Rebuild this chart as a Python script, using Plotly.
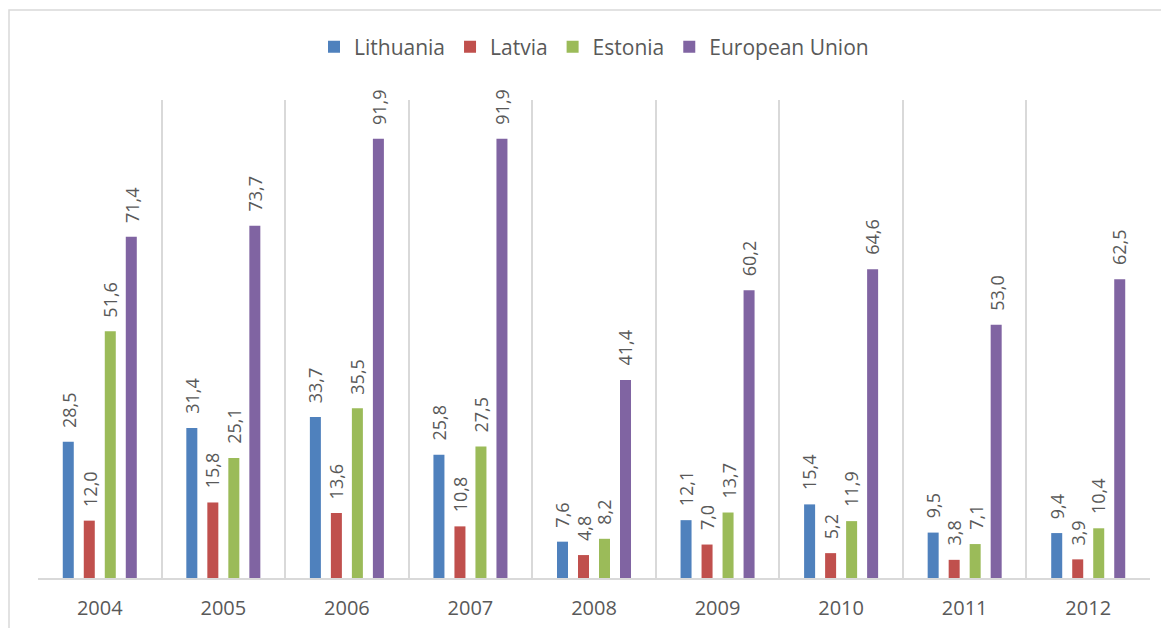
import plotly.graph_objects as go

years = ["2004", "2005", "2006", "2007", "2008", "2009", "2010", "2011", "2012"]
lithuania = [28.5, 31.4, 33.7, 25.8, 7.6, 12.1, 15.4, 9.5, 9.4]
latvia = [12.0, 15.8, 13.6, 10.8, 4.8, 7.0, 5.2, 3.8, 3.9]
estonia = [51.6, 25.1, 35.5, 27.5, 8.2, 13.7, 11.9, 7.1, 10.4]
eu = [71.4, 73.7, 91.9, 91.9, 41.4, 60.2, 64.6, 53.0, 62.5]

series = [
    ("Lithuania", lithuania, "#4F81BD"),
    ("Latvia", latvia, "#C0504D"),
    ("Estonia", estonia, "#9BBB59"),
    ("European Union", eu, "#8064A2"),
]

FONT = "Open Sans, sans-serif"
GREY = "#595959"

# page body has an 8px margin; size the figure so it fills the window
W, H = 1161, 620
L, R, T, B = 30, 19, 92, 50
pw, ph = W - L - R, H - T - B
BARGAP, GROUPGAP = 0.32, 0.476
slot = pw / len(years) * (1 - BARGAP) / len(series)

fig = go.Figure()
annotations = []
for i, (name, vals, col) in enumerate(series):
    fig.add_trace(go.Bar(
        x=years, y=vals, name=name,
        marker=dict(color=col, line=dict(width=0)),
        hoverinfo="skip",
    ))
    shift = (i - (len(series) - 1) / 2) * slot
    for k, v in enumerate(vals):
        annotations.append(dict(
            x=k, y=v, xref="x", yref="y",
            text=f"{v:.1f}".replace(".", ","),
            textangle=-90, showarrow=False,
            xanchor="center", yanchor="bottom",
            xshift=shift, yshift=12,
            font=dict(family=FONT, size=18, color=GREY),
        ))

fig.update_layout(
    width=W, height=H,
    margin=dict(l=L, r=R, t=T, b=B, autoexpand=False),
    paper_bgcolor="white", plot_bgcolor="white",
    barmode="group", bargap=BARGAP, bargroupgap=GROUPGAP,
    font=dict(family=FONT, color=GREY),
    showlegend=True,
    legend=dict(orientation="h", x=0.5, xanchor="center", y=(ph + 53) / ph,
                yanchor="middle", font=dict(family=FONT, size=21, color=GREY),
                traceorder="normal", itemwidth=30),
    xaxis=dict(type="category", categoryarray=years, range=[-0.5, len(years) - 0.5],
               tickson="boundaries", showgrid=True, automargin=False, tickangle=0,
               gridcolor="#D9D9D9", gridwidth=1.5, ticks="", showline=True,
               linecolor="#D9D9D9", linewidth=1.5,
               tickfont=dict(family=FONT, size=20, color=GREY),
               ticklabelstandoff=11),
    yaxis=dict(range=[0, 100], showgrid=False, showticklabels=False, automargin=False,
               zeroline=False, showline=False, ticks=""),
    annotations=annotations,
    shapes=[dict(type="rect", xref="paper", yref="paper",
                 x0=(1 - L) / pw, x1=1.1, y0=-0.3, y1=(ph + T - 2) / ph,
                 line=dict(color="#D9D9D9", width=1.5), fillcolor="rgba(0,0,0,0)",
                 layer="below")],
)

fig.write_html("out.html")
